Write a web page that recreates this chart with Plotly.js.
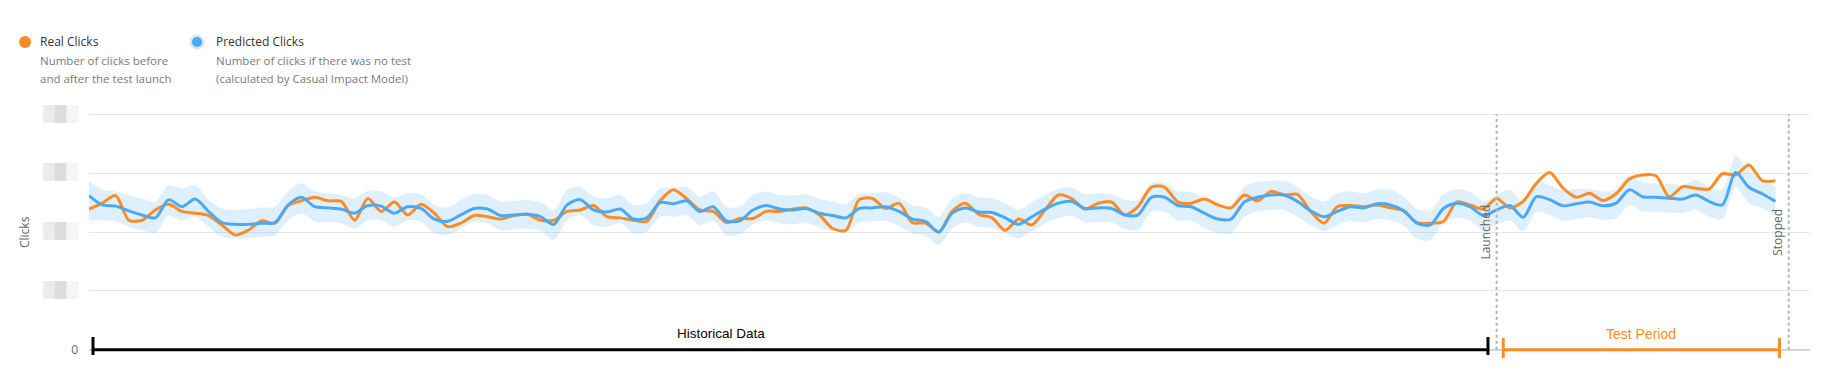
<!DOCTYPE html>
<html>
<head>
<meta charset="utf-8">
<script src="https://cdn.plot.ly/plotly-3.0.1.min.js"></script>
<style>
  html, body { margin: 0; padding: 0; background: #fff; }
  #chart { width: 1823px; height: 387px; }
</style>
</head>
<body>
<div id="chart"></div>
<script>
// ---- data (y in units of the hidden tick step) ----
const realClicks = [
  2.39, 2.49, 2.62, 2.20, 2.20, 2.375, 2.47, 2.35, 2.32, 2.28,
  2.12, 1.95, 2.03, 2.19, 2.15, 2.45, 2.53, 2.59, 2.53, 2.52,
  2.20, 2.57, 2.35, 2.51, 2.29, 2.47, 2.32, 2.09, 2.15, 2.28,
  2.26, 2.22, 2.28, 2.30, 2.20, 2.20, 2.35, 2.375, 2.45, 2.26,
  2.24, 2.20, 2.18, 2.53, 2.72, 2.57, 2.375, 2.35, 2.16, 2.23,
  2.23, 2.35, 2.35, 2.39, 2.41, 2.29, 2.06, 2.03, 2.55, 2.57,
  2.40, 2.49, 2.16, 2.15, 2.00, 2.35, 2.49, 2.30, 2.24, 2.03,
  2.22, 2.12, 2.375, 2.63, 2.57, 2.39, 2.49, 2.51, 2.29, 2.43,
  2.76, 2.76, 2.51, 2.49, 2.56, 2.46, 2.41, 2.63, 2.53, 2.69,
  2.63, 2.64, 2.35, 2.15, 2.43, 2.45, 2.43, 2.46, 2.41, 2.36,
  2.16, 2.15, 2.18, 2.51, 2.46, 2.39, 2.57, 2.41, 2.52, 2.83,
  3.01, 2.745, 2.59, 2.66, 2.535, 2.65, 2.90, 2.97, 2.955, 2.60,
  2.77, 2.745, 2.73, 2.99, 2.97, 3.14, 2.875, 2.87
];
const predictedClicks = [
  2.62, 2.46, 2.44, 2.36, 2.29, 2.24, 2.55, 2.43, 2.56, 2.35,
  2.16, 2.13, 2.13, 2.15, 2.16, 2.46, 2.59, 2.43, 2.41, 2.39,
  2.32, 2.45, 2.44, 2.32, 2.43, 2.40, 2.22, 2.18, 2.29, 2.40,
  2.39, 2.28, 2.29, 2.30, 2.26, 2.13, 2.46, 2.55, 2.375, 2.34,
  2.39, 2.22, 2.24, 2.50, 2.48, 2.53, 2.35, 2.43, 2.19, 2.19,
  2.375, 2.45, 2.39, 2.375, 2.40, 2.32, 2.28, 2.24, 2.40, 2.41,
  2.43, 2.35, 2.22, 2.18, 2.00, 2.32, 2.41, 2.34, 2.33, 2.24,
  2.13, 2.26, 2.39, 2.49, 2.52, 2.40, 2.41, 2.40, 2.29, 2.29,
  2.59, 2.59, 2.45, 2.43, 2.32, 2.22, 2.22, 2.51, 2.59, 2.63,
  2.63, 2.52, 2.36, 2.26, 2.35, 2.43, 2.41, 2.48, 2.46, 2.36,
  2.15, 2.12, 2.40, 2.49, 2.43, 2.28, 2.375, 2.45, 2.25, 2.60,
  2.55, 2.445, 2.48, 2.51, 2.445, 2.49, 2.72, 2.60, 2.59, 2.575,
  2.56, 2.63, 2.52, 2.46, 3.01, 2.76, 2.65, 2.52
];
const predictedUpper = [
  2.87, 2.72, 2.69, 2.63, 2.57, 2.52, 2.79, 2.74, 2.79, 2.55,
  2.40, 2.375, 2.39, 2.415, 2.43, 2.69, 2.83, 2.69, 2.66, 2.63,
  2.57, 2.70, 2.69, 2.585, 2.66, 2.64, 2.46, 2.415, 2.545, 2.64,
  2.63, 2.52, 2.53, 2.545, 2.51, 2.375, 2.72, 2.77, 2.60, 2.57,
  2.63, 2.46, 2.49, 2.74, 2.74, 2.77, 2.60, 2.69, 2.43, 2.43,
  2.63, 2.69, 2.63, 2.62, 2.64, 2.56, 2.52, 2.47, 2.64, 2.66,
  2.68, 2.585, 2.46, 2.415, 2.26, 2.57, 2.66, 2.585, 2.57, 2.49,
  2.375, 2.51, 2.63, 2.73, 2.76, 2.64, 2.66, 2.64, 2.545, 2.545,
  2.83, 2.83, 2.69, 2.68, 2.56, 2.46, 2.46, 2.77, 2.85, 2.87,
  2.87, 2.77, 2.60, 2.52, 2.66, 2.69, 2.66, 2.72, 2.72, 2.60,
  2.39, 2.36, 2.64, 2.73, 2.68, 2.52, 2.63, 2.72, 2.52, 2.86,
  2.80, 2.705, 2.73, 2.73, 2.69, 2.72, 2.97, 2.84, 2.83, 2.82,
  2.80, 2.89, 2.77, 2.72, 3.29, 3.03, 2.90, 2.77
];
const predictedLower = [
  2.20, 2.20, 2.18, 2.09, 2.03, 1.99, 2.28, 2.20, 2.26, 2.09,
  1.92, 1.89, 1.89, 1.92, 1.95, 2.20, 2.32, 2.18, 2.165, 2.15,
  2.06, 2.20, 2.20, 2.09, 2.20, 2.18, 1.98, 1.95, 2.06, 2.18,
  2.15, 2.03, 2.05, 2.06, 2.02, 1.86, 2.20, 2.29, 2.12, 2.09,
  2.15, 1.98, 2.01, 2.26, 2.26, 2.28, 2.12, 2.19, 1.95, 1.96,
  2.13, 2.20, 2.15, 2.13, 2.165, 2.07, 2.03, 1.99, 2.165, 2.18,
  2.19, 2.10, 1.98, 1.94, 1.78, 2.06, 2.165, 2.09, 2.07, 1.99,
  1.89, 2.02, 2.15, 2.24, 2.28, 2.165, 2.165, 2.165, 2.05, 2.03,
  2.35, 2.35, 2.20, 2.19, 2.07, 1.98, 1.98, 2.26, 2.35, 2.375,
  2.375, 2.26, 2.12, 2.02, 2.12, 2.19, 2.165, 2.22, 2.20, 2.11,
  1.88, 1.86, 2.165, 2.24, 2.19, 2.03, 2.13, 2.20, 2.01, 2.35,
  2.29, 2.195, 2.22, 2.25, 2.21, 2.235, 2.46, 2.35, 2.35, 2.33,
  2.32, 2.38, 2.26, 2.22, 2.77, 2.49, 2.405, 2.26
];
const days = realClicks.map((_, i) => i);
const launchDay = 106;
const stopDay = 128;
const yTickVals = [0, 1, 2, 3, 4];
// the reference's non-zero tick labels are pixelated out; drawn as faint blocks
const blob = '<span style="font-family:DejaVu Sans;font-size:15px">' +
  '<span style="color:#ececec">█</span><span style="color:#dcdcdc">█</span><span style="color:#f5f5f5">█</span></span>';
const yTickText = ['0', blob, blob, blob, blob];

// ---- styling ----
const ORANGE = '#ff8c22';
const BLUE = '#4aa9f2';
const BAND = 'rgba(74,169,242,0.18)';
const W = 1823, H = 387;
const M = {l: 89, r: 13, t: 112, b: 35};
const PW = W - M.l - M.r, PH = H - M.t - M.b;
const px = x => (x - M.l) / PW;          // page pixel -> paper x
const py = y => (H - M.b - y) / PH;      // page pixel -> paper y
const TXT = 'Open Sans, Noto Sans, sans-serif';

const traces = [
  {x: days, y: predictedUpper, type: 'scatter', mode: 'lines',
   line: {width: 0, shape: 'spline', smoothing: 0.8, color: BAND}, hoverinfo: 'skip'},
  {x: days, y: predictedLower, type: 'scatter', mode: 'lines', fill: 'tonexty',
   fillcolor: BAND, line: {width: 0, shape: 'spline', smoothing: 0.8, color: BAND}, hoverinfo: 'skip'},
  {x: days, y: realClicks, type: 'scatter', mode: 'lines', name: 'Real Clicks',
   line: {width: 3, color: ORANGE, shape: 'spline', smoothing: 0.8}},
  {x: days, y: predictedClicks, type: 'scatter', mode: 'lines', name: 'Predicted Clicks',
   line: {width: 3, color: BLUE, shape: 'spline', smoothing: 0.8}}
];

const shapes = [
  // event lines
  {type: 'line', xref: 'x', yref: 'y', x0: launchDay, x1: launchDay, y0: 0, y1: 4,
   line: {color: '#b3b3b3', width: 2, dash: 'dot'}},
  {type: 'line', xref: 'x', yref: 'y', x0: stopDay, x1: stopDay, y0: 0, y1: 4,
   line: {color: '#b3b3b3', width: 2, dash: 'dot'}},
  // historical bracket
  {type: 'line', xref: 'x', yref: 'y', x0: 0.3, x1: launchDay - 0.65, y0: 0, y1: 0,
   line: {color: '#000', width: 3}},
  {type: 'line', xref: 'x', yref: 'paper', x0: 0.3, x1: 0.3, y0: py(337), y1: py(355),
   line: {color: '#000', width: 3}},
  {type: 'line', xref: 'x', yref: 'paper', x0: launchDay - 0.65, x1: launchDay - 0.65, y0: py(337), y1: py(355),
   line: {color: '#000', width: 3}},
  // test bracket
  {type: 'line', xref: 'x', yref: 'y', x0: launchDay + 0.5, x1: stopDay - 0.7, y0: 0, y1: 0,
   line: {color: ORANGE, width: 3}},
  {type: 'line', xref: 'x', yref: 'paper', x0: launchDay + 0.5, x1: launchDay + 0.5, y0: py(338), y1: py(358),
   line: {color: ORANGE, width: 3}},
  {type: 'line', xref: 'x', yref: 'paper', x0: stopDay - 0.7, x1: stopDay - 0.7, y0: py(338), y1: py(358),
   line: {color: ORANGE, width: 3}},
  // legend markers
  {type: 'circle', xref: 'paper', yref: 'paper', xsizemode: 'pixel', ysizemode: 'pixel',
   xanchor: px(25), yanchor: py(42), x0: -6, x1: 6, y0: -6, y1: 6,
   fillcolor: ORANGE, line: {width: 0}},
  {type: 'circle', xref: 'paper', yref: 'paper', xsizemode: 'pixel', ysizemode: 'pixel',
   xanchor: px(197), yanchor: py(42), x0: -7.5, x1: 7.5, y0: -7.5, y1: 7.5,
   fillcolor: '#d3e8fb', line: {width: 0}},
  {type: 'circle', xref: 'paper', yref: 'paper', xsizemode: 'pixel', ysizemode: 'pixel',
   xanchor: px(197), yanchor: py(42), x0: -5, x1: 5, y0: -5, y1: 5,
   fillcolor: BLUE, line: {width: 0}}
];

const legText = (txt, x, y, color, size) => ({
  text: txt, xref: 'paper', yref: 'paper', x: px(x), y: py(y),
  xanchor: 'left', yanchor: 'middle', showarrow: false,
  font: {family: TXT, size: size, color: color}
});

const annotations = [
  legText('Real Clicks', 38, 42, '#333', 12),
  legText('Number of clicks before', 38, 60, '#7a7a7a', 11.5),
  legText('and after the test launch', 38, 78, '#7a7a7a', 11.5),
  legText('Predicted Clicks', 214, 42, '#333', 12),
  legText('Number of clicks if there was no test', 214, 60, '#7a7a7a', 11.5),
  legText('(calculated by Casual Impact Model)', 214, 78, '#7a7a7a', 11.5),
  {text: 'Clicks', xref: 'paper', yref: 'y', x: px(24), y: 2, textangle: -90,
   xanchor: 'center', yanchor: 'middle', showarrow: false,
   font: {family: TXT, size: 12, color: '#666'}},
  {text: 'Launched', xref: 'x', yref: 'y', x: launchDay, xshift: -12, y: 2, textangle: -90,
   xanchor: 'center', yanchor: 'middle', showarrow: false,
   font: {family: TXT, size: 12, color: '#666'}},
  {text: 'Stopped', xref: 'x', yref: 'y', x: stopDay, xshift: -12, y: 2, textangle: -90,
   xanchor: 'center', yanchor: 'middle', showarrow: false,
   font: {family: TXT, size: 12, color: '#666'}},
  {text: 'Historical Data', xref: 'x', yref: 'y', x: 47.6, y: 0.28,
   xanchor: 'center', yanchor: 'middle', showarrow: false,
   font: {family: 'Liberation Sans, Arial, sans-serif', size: 13.5, color: '#000'}},
  {text: 'Test Period', xref: 'x', yref: 'y', x: (launchDay + stopDay) / 2 - 0.1, y: 0.26,
   xanchor: 'center', yanchor: 'middle', showarrow: false,
   font: {family: 'Liberation Sans, Arial, sans-serif', size: 14, color: ORANGE}}
];

const layout = {
  width: W, height: H,
  margin: {l: M.l, r: M.r, t: M.t, b: M.b, pad: 0},
  paper_bgcolor: '#fff', plot_bgcolor: '#fff',
  showlegend: false,
  xaxis: {range: [0, 129.6], showgrid: false, zeroline: false, showline: false,
          showticklabels: false, ticks: '', fixedrange: true},
  yaxis: {range: [-0.04, 4.04], tickvals: yTickVals, ticktext: yTickText,
          showgrid: true, gridcolor: '#e8e8e8', gridwidth: 1,
          zeroline: true, zerolinecolor: '#d4d4d4', zerolinewidth: 2,
          showline: false, ticks: '', ticklabelstandoff: 10,
          tickfont: {family: TXT, size: 12, color: '#666'}, fixedrange: true},
  shapes: shapes,
  annotations: annotations
};

Plotly.newPlot('chart', traces, layout, {displayModeBar: false, staticPlot: true});
</script>
</body>
</html>
